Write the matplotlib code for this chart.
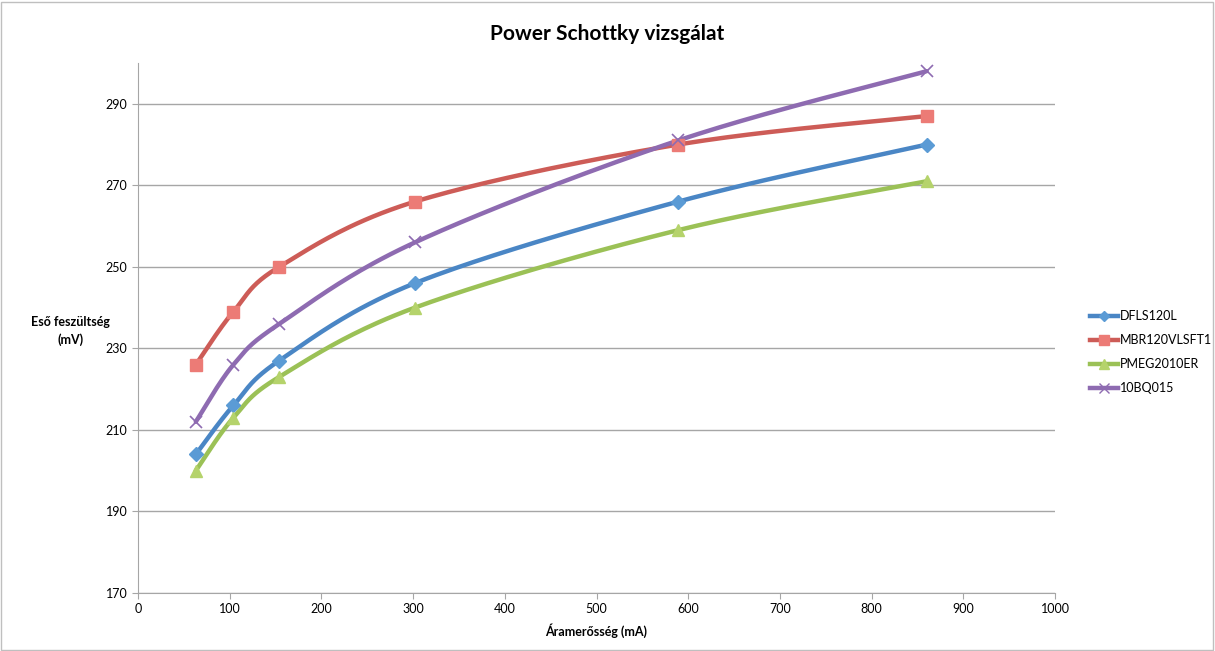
import numpy as np
import matplotlib
matplotlib.use("Agg")
import matplotlib.pyplot as plt
from matplotlib.patches import Rectangle

plt.rcParams['font.family'] = ['Lato', 'DejaVu Sans']

current_mA = [63, 104, 154, 302, 589, 860]
series_names = ["DFLS120L", "MBR120VLSFT1", "PMEG2010ER", "10BQ015"]
dfls120l = [204, 216, 227, 246, 266, 280]
mbr120vlsft1 = [226, 239, 250, 266, 280, 287]
pmeg2010er = [200, 213, 223, 240, 259, 271]
bq015 = [212, 226, 236, 256, 281, 298]

line_colors = ["#4A86C5", "#CD5C57", "#9BC156", "#8E6BB1"]
marker_faces = ["#5B9BD5", "#EC7B76", "#B5D36B", "#8E6BB1"]
markers = ["D", "s", "^", "x"]
marker_sizes = [7, 9, 9, 9]


def smooth(xs, ys, n=40):
    """Excel-style smoothed line (Catmull-Rom Bezier) through the points."""
    xs = np.asarray(xs, float)
    ys = np.asarray(ys, float)
    P = np.column_stack([xs, ys])
    out = []
    for i in range(len(P) - 1):
        p0 = P[i - 1] if i > 0 else P[i]
        p1 = P[i]
        p2 = P[i + 1]
        p3 = P[i + 2] if i + 2 < len(P) else P[i + 1]
        c1 = p1 + (p2 - p0) / 6.0
        c2 = p2 - (p3 - p1) / 6.0
        t = np.linspace(0, 1, n)[:, None]
        seg = ((1 - t) ** 3) * p1 + 3 * ((1 - t) ** 2) * t * c1 + 3 * (1 - t) * t ** 2 * c2 + t ** 3 * p2
        out.append(seg if i == 0 else seg[1:])
    seg = np.vstack(out)
    return seg[:, 0], seg[:, 1]


fig = plt.figure(figsize=(12.15, 6.51), dpi=100)
fig.patches.append(Rectangle((0.001, 0.002), 0.997, 0.995, transform=fig.transFigure,
                             fill=False, edgecolor="#BFBFBF", linewidth=1))
ax = fig.add_axes([0.1136, 0.0891, 0.8683 - 0.1136, 0.9032 - 0.0891])

all_series = [dfls120l, mbr120vlsft1, pmeg2010er, bq015]
for name, ys, lc, mf, mk, ms in zip(series_names, all_series, line_colors, marker_faces, markers, marker_sizes):
    sx, sy = smooth(current_mA, ys)
    ax.plot(sx, sy, color=lc, linewidth=3.2, solid_capstyle="round", zorder=3)
    if mk == "x":
        ax.plot(current_mA, ys, linestyle="none", marker=mk, markersize=ms,
                markeredgecolor=mf, markeredgewidth=1.2, zorder=4)
    else:
        ax.plot(current_mA, ys, linestyle="none", marker=mk, markersize=ms,
                markerfacecolor=mf, markeredgecolor=mf, zorder=4)
    ax.plot([], [], color=lc, linewidth=3.2, marker=mk, markersize=ms * 0.8,
            markerfacecolor=mf, markeredgecolor=mf, label=name)

ax.set_xlim(0, 1000)
ax.set_ylim(170, 300)
ax.set_xticks(np.arange(0, 1001, 100))
ax.set_yticks(np.arange(170, 291, 20))
ax.grid(axis="y", color="#A6A6A6", linewidth=1)
ax.set_axisbelow(True)
for s in ["top", "right"]:
    ax.spines[s].set_visible(False)
for s in ["left", "bottom"]:
    ax.spines[s].set_color("#A6A6A6")
ax.tick_params(axis="both", colors="#A6A6A6", labelcolor="#000000", labelsize=9, length=4)

ax.set_xlabel("Áramerősség (mA)", fontsize=9, fontweight="bold", labelpad=6)
fig.text(0.058, 0.492, "Eső feszültség\n(mV)", fontsize=9, fontweight="bold",
         ha="center", va="center", linespacing=1.5)
fig.text(0.5, 0.948, "Power Schottky vizsgálat", fontsize=15, fontweight="bold",
         ha="center", va="center")

leg = fig.legend(loc="center left", bbox_to_anchor=(0.888, 0.459), frameon=False,
                 fontsize=9, handlelength=2.2, handletextpad=0.2, labelspacing=0.95)

fig.savefig("out.png", dpi=100)
